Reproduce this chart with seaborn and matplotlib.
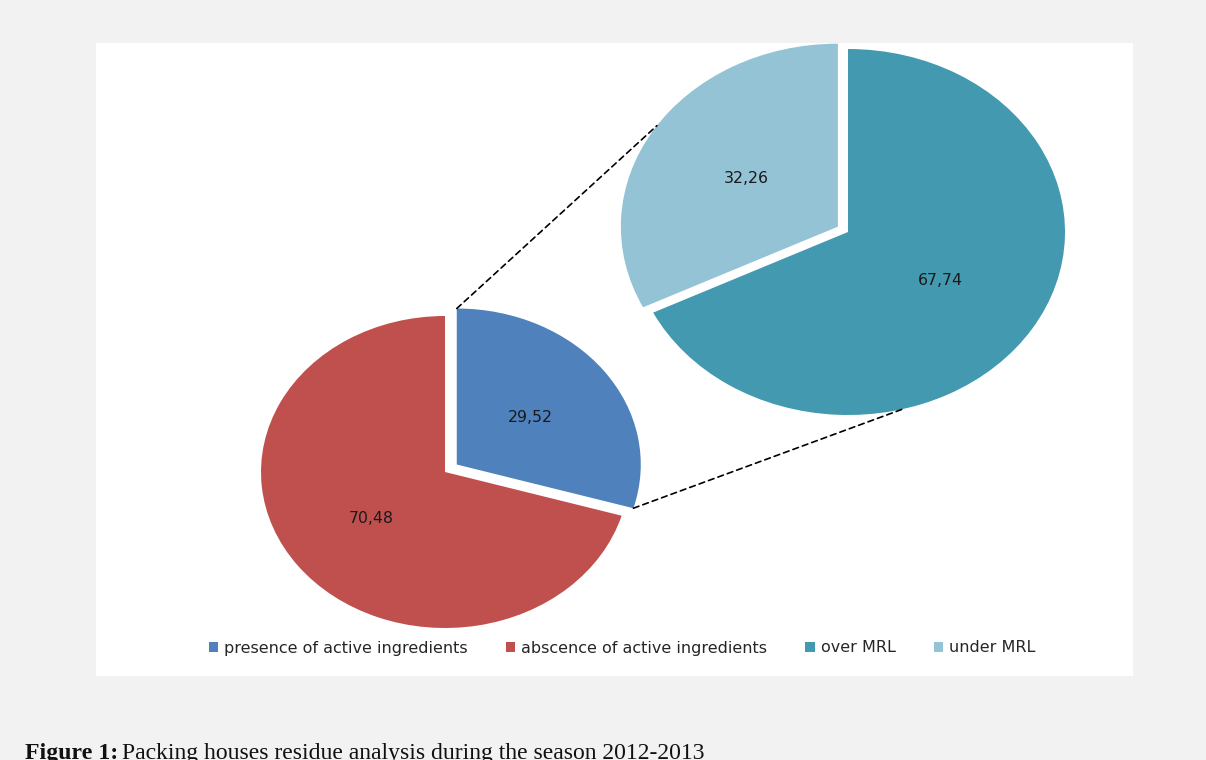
import numpy as np
import matplotlib
matplotlib.use('Agg')
import matplotlib.pyplot as plt
import seaborn as sns
from matplotlib.patches import Rectangle, Patch, ConnectionPatch

# data
main_labels = ['presence of active ingredients', 'abscence of active ingredients']
main_values = [29.52, 70.48]
sub_labels = ['over MRL', 'under MRL']
sub_values = [67.74, 32.26]

main_colors = ['#4F81BD', '#C0504D']
sub_colors = ['#4399B0', '#93C3D5']

sns.set_theme(style='white')
plt.rcParams['font.family'] = ['DejaVu Sans']

W, H = 1206, 760
fig = plt.figure(figsize=(W / 100, H / 100), dpi=100)
fig.patch.set_facecolor('#F2F2F2')

# white chart area
fig.add_artist(Rectangle((96 / W, 1 - 676 / H), (1133 - 96) / W, (676 - 43) / H,
                         transform=fig.transFigure, facecolor='white',
                         edgecolor='none', zorder=0))


def pie_axes(cx, cy, rx, ry):
    # axes box matching the (slightly stretched) ellipse of each pie
    return fig.add_axes([(cx - rx) / W, (H - cy - ry) / H, 2 * rx / W, 2 * ry / H])


def fmt(p):
    return f'{p:.2f}'.replace('.', ',')


ax1 = pie_axes(445, 472, 184, 156)
w1, t1, a1 = ax1.pie(main_values, colors=main_colors, startangle=90,
                     counterclock=False, explode=[0.08, 0], autopct=fmt,
                     pctdistance=0.5, wedgeprops=dict(edgecolor='none'),
                     textprops=dict(fontsize=11.3, color='#1a1a1a'))

ax2 = pie_axes(848, 232, 217, 183)
w2, t2, a2 = ax2.pie(sub_values, colors=sub_colors, startangle=90,
                     counterclock=False, explode=[0, 0.055], autopct=fmt,
                     pctdistance=0.5, wedgeprops=dict(edgecolor='none'),
                     textprops=dict(fontsize=11.3, color='#1a1a1a'))

for ax in (ax1, ax2):
    ax.set_aspect('auto')
    ax.set_xlim(-1, 1)
    ax.set_ylim(-1, 1)
    ax.axis('off')
    for p in ax.patches:
        p.set_clip_on(False)


def edge_point(wedge, ang):
    cx, cy = wedge.center
    r = wedge.r
    return cx + r * np.cos(np.radians(ang)), cy + r * np.sin(np.radians(ang))


blue = w1[0]
ang_lo, ang_hi = sorted([blue.theta1, blue.theta2])
light, dark = w2[1], w2[0]

pairs = [(edge_point(blue, ang_hi), edge_point(light, 146.5)),
         (edge_point(blue, ang_lo), edge_point(dark, -75.4))]
for pa, pb in pairs:
    con = ConnectionPatch(xyA=pa, coordsA=ax1.transData, xyB=pb, coordsB=ax2.transData,
                          linestyle=(0, (3.5, 2.5)), color='black', lw=1.2, zorder=0.5)
    fig.add_artist(con)

handles = [Patch(facecolor=c, edgecolor='none') for c in main_colors + sub_colors]
fig.legend(handles, main_labels + sub_labels, ncol=4, loc='center',
           bbox_to_anchor=(622 / W, 1 - 648 / H), frameon=False, fontsize=11.5,
           handlelength=0.6, handleheight=0.6, handletextpad=0.35,
           columnspacing=2.4)

# caption below the chart (cut by the bottom edge, as in the source)
base_y = 1 - 759 / H
cap1 = fig.text(25 / W, base_y, 'Figure 1:', fontsize=17.2, fontweight='bold',
                family='Liberation Serif', va='baseline', ha='left', color='#111111')
fig.canvas.draw()
x_end = cap1.get_window_extent().x1
fig.text((x_end + 4) / W, base_y,
         'Packing houses residue analysis during the season 2012-2013',
         fontsize=17.0, family='Liberation Serif', va='baseline', ha='left',
         color='#111111')

fig.savefig('out.png', dpi=100, facecolor=fig.get_facecolor())
